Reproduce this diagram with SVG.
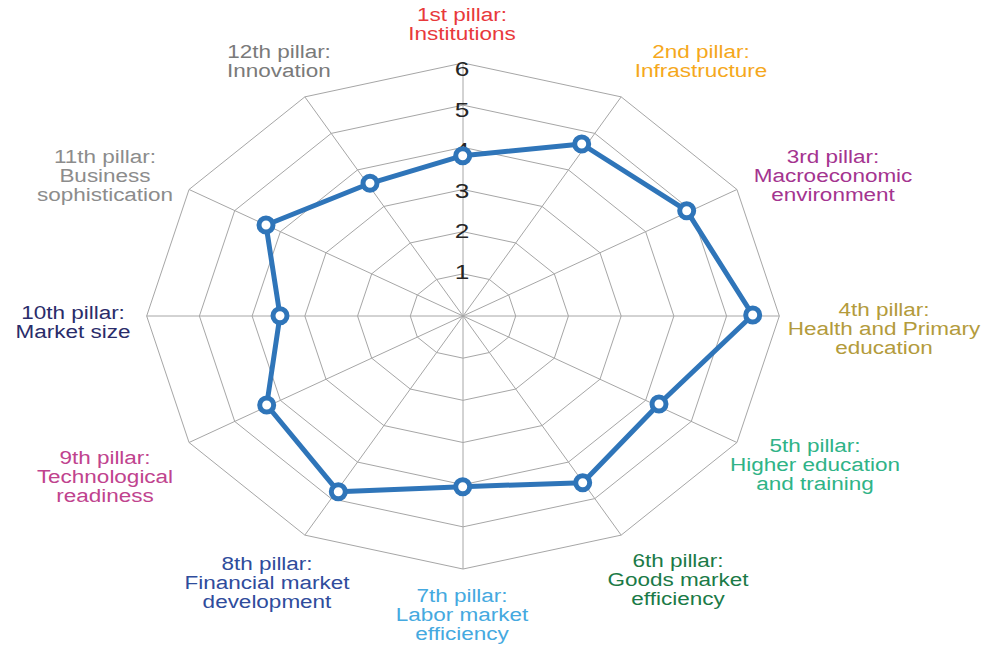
<svg xmlns="http://www.w3.org/2000/svg" width="1001" height="646" viewBox="0 0 1001 646">
<style>
.grid{fill:none;stroke:#a6a6a6;stroke-width:1}
.lbl{font-family:"Liberation Sans",Arial,sans-serif;font-size:18px;text-anchor:middle}
.num{font-family:"Liberation Sans",Arial,sans-serif;font-size:21px;text-anchor:middle;fill:#262626}
.series{fill:none;stroke:#2f75b9;stroke-width:5;stroke-linejoin:round}
.mk{fill:#fff;stroke:#2f75b9;stroke-width:5}
</style>
<rect width="1001" height="646" fill="#fff"/>
<g id="grid">
<polygon class="grid" points="463,273.83 489.36,279.48 508.66,294.92 515.72,316 508.66,337.08 489.36,352.52 463,358.17 436.64,352.52 417.34,337.08 410.28,316 417.34,294.92 436.64,279.48"/>
<polygon class="grid" points="463,231.66 515.72,242.96 554.31,273.83 568.44,316 554.31,358.17 515.72,389.04 463,400.34 410.28,389.04 371.69,358.17 357.56,316 371.69,273.83 410.28,242.96"/>
<polygon class="grid" points="463,189.49 542.08,206.44 599.97,252.74 621.16,316 599.97,379.26 542.08,425.56 463,442.51 383.92,425.56 326.03,379.26 304.84,316 326.03,252.74 383.92,206.44"/>
<polygon class="grid" points="463,147.32 568.44,169.92 645.62,231.66 673.88,316 645.62,400.34 568.44,462.08 463,484.68 357.56,462.08 280.38,400.34 252.12,316 280.38,231.66 357.56,169.92"/>
<polygon class="grid" points="463,105.15 594.8,133.4 691.28,210.57 726.6,316 691.28,421.43 594.8,498.6 463,526.85 331.2,498.6 234.72,421.43 199.4,316 234.72,210.57 331.2,133.4"/>
<polygon class="grid" points="463,62.98 621.16,96.88 736.94,189.49 779.32,316 736.94,442.51 621.16,535.12 463,569.02 304.84,535.12 189.06,442.51 146.68,316 189.06,189.49 304.84,96.88"/>
<path class="grid" d="M463,316L463,62.98M463,316L621.16,96.88M463,316L736.94,189.49M463,316L779.32,316M463,316L736.94,442.51M463,316L621.16,535.12M463,316L463,569.02M463,316L304.84,535.12M463,316L189.06,442.51M463,316L146.68,316M463,316L189.06,189.49M463,316L304.84,96.88"/>
</g>
<g id="scale">
<g transform="translate(462 0) scale(1.25 1)">
<text class="num" x="0" y="76">6</text>
<text class="num" x="0" y="117">5</text>
<text class="num" x="0" y="157">4</text>
<text class="num" x="0" y="198">3</text>
<text class="num" x="0" y="238">2</text>
<text class="num" x="0" y="279">1</text>
</g>
</g>
<g id="connectors">
<polygon class="series" points="462.7,155.7 581.7,144 686.7,210.7 752.7,315 659,404 582.7,482.7 462.7,486.7 338.3,491.7 266.7,405 280,315.7 266,225 370,183.3"/>
</g>
<g id="p1"><circle class="mk" cx="462.7" cy="155.7" r="7"/><g transform="translate(462 0) scale(1.25 1)"><text class="lbl" fill="#e8393b" x="0" y="21">1st pillar:</text><text class="lbl" fill="#e8393b" x="0" y="40">Institutions</text></g></g>
<g id="p2"><circle class="mk" cx="581.7" cy="144" r="7"/><g transform="translate(701 0) scale(1.25 1)"><text class="lbl" fill="#f5a81c" x="0" y="58">2nd pillar:</text><text class="lbl" fill="#f5a81c" x="0" y="77">Infrastructure</text></g></g>
<g id="p3"><circle class="mk" cx="686.7" cy="210.7" r="7"/><g transform="translate(833 0) scale(1.25 1)"><text class="lbl" fill="#a4348f" x="0" y="163">3rd pillar:</text><text class="lbl" fill="#a4348f" x="0" y="182">Macroeconomic</text><text class="lbl" fill="#a4348f" x="0" y="201">environment</text></g></g>
<g id="p4"><circle class="mk" cx="752.7" cy="315" r="7"/><g transform="translate(884 0) scale(1.25 1)"><text class="lbl" fill="#b39b3c" x="0" y="316">4th pillar:</text><text class="lbl" fill="#b39b3c" x="0" y="335">Health and Primary</text><text class="lbl" fill="#b39b3c" x="0" y="354">education</text></g></g>
<g id="p5"><circle class="mk" cx="659" cy="404" r="7"/><g transform="translate(815 0) scale(1.25 1)"><text class="lbl" fill="#2fb387" x="0" y="452">5th pillar:</text><text class="lbl" fill="#2fb387" x="0" y="471">Higher education</text><text class="lbl" fill="#2fb387" x="0" y="490">and training</text></g></g>
<g id="p6"><circle class="mk" cx="582.7" cy="482.7" r="7"/><g transform="translate(678 0) scale(1.25 1)"><text class="lbl" fill="#1b7a47" x="0" y="567">6th pillar:</text><text class="lbl" fill="#1b7a47" x="0" y="586">Goods market</text><text class="lbl" fill="#1b7a47" x="0" y="605">efficiency</text></g></g>
<g id="p7"><circle class="mk" cx="462.7" cy="486.7" r="7"/><g transform="translate(462 0) scale(1.25 1)"><text class="lbl" fill="#45a9e0" x="0" y="602">7th pillar:</text><text class="lbl" fill="#45a9e0" x="0" y="621">Labor market</text><text class="lbl" fill="#45a9e0" x="0" y="640">efficiency</text></g></g>
<g id="p8"><circle class="mk" cx="338.3" cy="491.7" r="7"/><g transform="translate(267 0) scale(1.25 1)"><text class="lbl" fill="#2f4c9c" x="0" y="570">8th pillar:</text><text class="lbl" fill="#2f4c9c" x="0" y="589">Financial market</text><text class="lbl" fill="#2f4c9c" x="0" y="608">development</text></g></g>
<g id="p9"><circle class="mk" cx="266.7" cy="405" r="7"/><g transform="translate(105 0) scale(1.25 1)"><text class="lbl" fill="#c0438e" x="0" y="464">9th pillar:</text><text class="lbl" fill="#c0438e" x="0" y="483">Technological</text><text class="lbl" fill="#c0438e" x="0" y="502">readiness</text></g></g>
<g id="p10"><circle class="mk" cx="280" cy="315.7" r="7"/><g transform="translate(73 0) scale(1.25 1)"><text class="lbl" fill="#2a2c6a" x="0" y="319">10th pillar:</text><text class="lbl" fill="#2a2c6a" x="0" y="338">Market size</text></g></g>
<g id="p11"><circle class="mk" cx="266" cy="225" r="7"/><g transform="translate(105 0) scale(1.25 1)"><text class="lbl" fill="#8c8c8c" x="0" y="163">11th pillar:</text><text class="lbl" fill="#8c8c8c" x="0" y="182">Business</text><text class="lbl" fill="#8c8c8c" x="0" y="201">sophistication</text></g></g>
<g id="p12"><circle class="mk" cx="370" cy="183.3" r="7"/><g transform="translate(279 0) scale(1.25 1)"><text class="lbl" fill="#7a7a7a" x="0" y="58">12th pillar:</text><text class="lbl" fill="#7a7a7a" x="0" y="77">Innovation</text></g></g>
</svg>
